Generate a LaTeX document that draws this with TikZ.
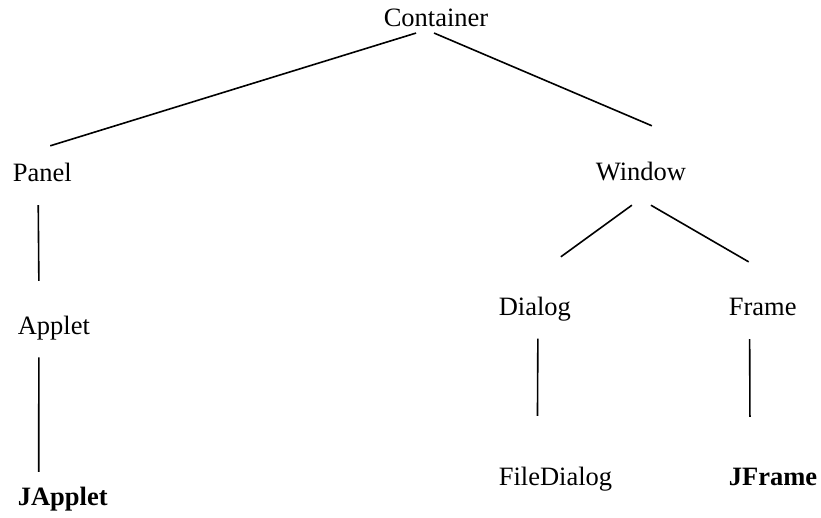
\documentclass[tikz,border=0pt]{standalone}
\usepackage{fontspec}
\setmainfont{Liberation Serif}
\usepackage{tikz}
\usetikzlibrary{calc}

\begin{document}
\begin{tikzpicture}[x=1pt,y=1pt,line width=1.6pt,
  cls/.style={anchor=base west,inner sep=0pt,font=\fontsize{26.5}{30}\selectfont},
  jcls/.style={cls,font=\fontsize{26.5}{30}\selectfont\bfseries}]
% Page frame
\useasboundingbox (0,0) rectangle (821,518);

% Classes
\node[cls] (container) at (383,491) {Container};
\node[cls] (panel) at (12,336) {Panel};
\node[cls] (window) at (595,337) {Window};
\node[cls] (applet) at (17,183) {Applet};
\node[cls] (dialog) at (498,202) {Dialog};
\node[cls] (frame) at (728,202) {Frame};
\node[cls] (filedialog) at (498,32) {FileDialog};
\node[jcls] (jframe) at (728,32) {JFrame};
\node[jcls] (japplet) at (17,12) {JApplet};

% Container subclasses
\draw ([shift={(-20,-5)}]container.south) -- ([shift={(8,17)}]panel.north);
\draw ([shift={(-2,-5)}]container.south) -- ([shift={(11,36)}]window.north);

% Panel branch
\draw ([shift={(-4,-22)}]panel.south) -- ([shift={(-15,35)}]applet.north);
\draw ([shift={(-15,-16)}]applet.south) -- ([shift={(-24,15)}]japplet.north);

% Window branch
\draw ([shift={(-9,-23)}]window.south) -- ([shift={(26,40)}]dialog.north);
\draw ([shift={(10,-23)}]window.south) -- ([shift={(-14,36)}]frame.north);
\draw ([shift={(3,-16)}]dialog.south) -- ([shift={(-18,51)}]filedialog.north);
\draw ([shift={(-13,-22)}]frame.south) -- ([shift={(-23,51)}]jframe.north);

\end{tikzpicture}
\end{document}
